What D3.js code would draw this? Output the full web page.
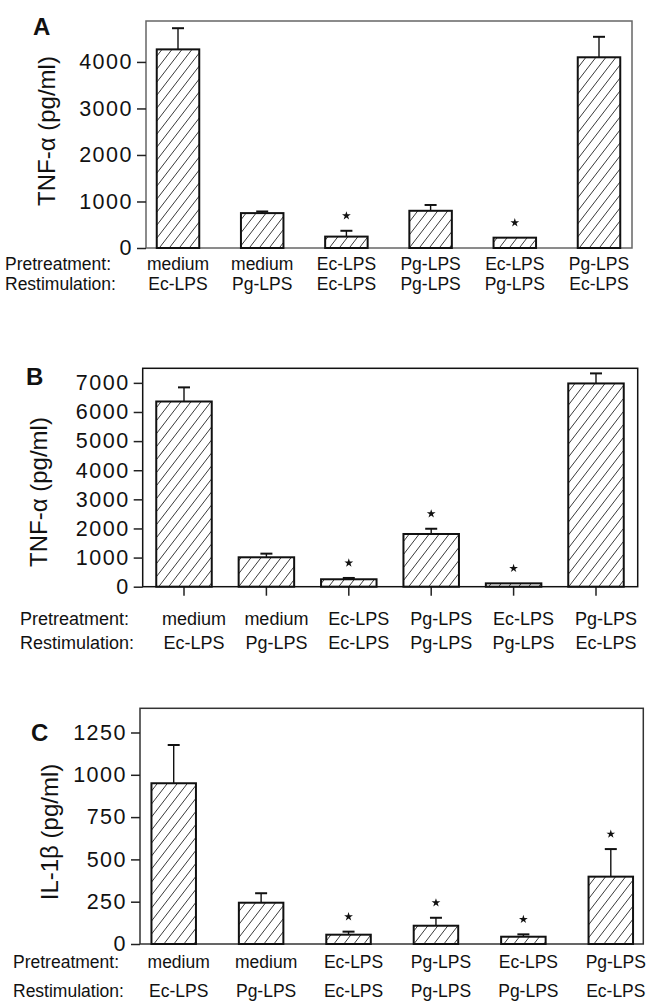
<!DOCTYPE html>
<html>
<head>
<meta charset="utf-8">
<script src="https://cdn.jsdelivr.net/npm/d3@7"></script>
<style>
  body { margin: 0; background: #fff; }
  svg { display: block; }
  text { font-family: "Liberation Sans", Arial, Helvetica, sans-serif; fill: #111; }
</style>
</head>
<body>
<svg id="fig" width="647" height="1006"></svg>
<script>
// categories (same for all three panels)
var pretreatment = ["medium", "medium", "Ec-LPS", "Pg-LPS", "Ec-LPS", "Pg-LPS"]
var restimulation = ["Ec-LPS", "Pg-LPS", "Ec-LPS", "Pg-LPS", "Pg-LPS", "Ec-LPS"]

// panel A: TNF-a
var tnfA = [4270, 750, 245, 800, 222, 4100]
var tnfAErr = [455, 35, 125, 125, 0, 440]
var starsA = [0, 0, 1, 0, 1, 0]
var ticksA = [0, 1000, 2000, 3000, 4000]

// panel B: TNF-a
var tnfB = [6360, 1010, 255, 1810, 115, 6980]
var tnfBErr = [485, 125, 45, 180, 0, 345]
var starsB = [0, 0, 1, 1, 1, 0]
var ticksB = [0, 1000, 2000, 3000, 4000, 5000, 6000, 7000]

// panel C: IL-1b
var il1bC = [950, 244, 55, 108, 43, 398]
var il1bCErr = [226, 56, 18, 47, 14, 163]
var starsC = [0, 0, 1, 1, 1, 1]
var ticksC = [0, 250, 500, 750, 1000, 1250]

var svg = d3.select("#fig")

// diagonal hatch
var defs = svg.append("defs")
defs.append("pattern")
  .attr("id", "hatch")
  .attr("patternUnits", "userSpaceOnUse")
  .attr("width", 10).attr("height", 13)
  .append("path")
  .attr("d", "M-1,14.3 L11,-1.3 M-1,1.3 L1,-1.3 M9,14.3 L11,11.7")
  .attr("stroke", "#222")
  .attr("stroke-width", 0.9)
  .attr("fill", "none")

var panels = [
  { letter: "A", values: tnfA, errs: tnfAErr, stars: starsA, ticks: ticksA, ymax: 4880,
    title: "TNF-\u03b1 (pg/ml)", box: [146, 21, 632, 248], first: 178, last: 599, barW: 42.5,
    letterPos: [33, 35], titlePos: [55, 131], rowX: 5, rows: [270, 290], dx: 0, font: 17.5,
    frame: "#666", xTicks: false },
  { letter: "B", values: tnfB, errs: tnfBErr, stars: starsB, ticks: ticksB, ymax: 7500,
    title: "TNF-\u03b1 (pg/ml)", box: [142.7, 368.3, 637.7, 586.7], first: 184, last: 596, barW: 55.5,
    letterPos: [26, 385], titlePos: [47, 492], rowX: 20, rows: [625, 649], dx: 10, font: 18,
    frame: "#111", xTicks: true },
  { letter: "C", values: il1bC, errs: il1bCErr, stars: starsC, ticks: ticksC, ymax: 1393,
    title: "IL-1\u03b2 (pg/ml)", box: [140, 708.3, 643.3, 944], first: 173.7, last: 610.8, barW: 44.5,
    letterPos: [31, 741], titlePos: [58, 832], rowX: 13, rows: [968, 997], dx: 5, font: 17.5,
    frame: "#333", xTicks: false }
]

panels.forEach(function(p) {
  var idx = d3.range(p.values.length)
  var step = (p.last - p.first) / (idx.length - 1)
  var pad = 1 - p.barW / step

  var x = d3.scaleBand()
    .domain(idx)
    .range([p.first - step / 2, p.last + step / 2])
    .paddingInner(pad)
    .paddingOuter(pad / 2)

  var y = d3.scaleLinear()
    .domain([0, p.ymax])
    .range([p.box[3], p.box[1]])

  var g = svg.append("g")

  // frame
  g.append("rect")
    .attr("x", p.box[0]).attr("y", p.box[1])
    .attr("width", p.box[2] - p.box[0])
    .attr("height", p.box[3] - p.box[1])
    .attr("fill", "none")
    .attr("stroke", p.frame)
    .attr("stroke-width", 1.5)

  // y axis
  var yAxis = g.append("g")
    .attr("transform", "translate(" + p.box[0] + ",0)")
    .call(d3.axisLeft(y).tickValues(p.ticks).tickSize(9).tickPadding(4).tickFormat(d3.format("d")))
  yAxis.select(".domain").remove()
  yAxis.selectAll("line").attr("stroke", "#222").attr("stroke-width", 1.5)
  yAxis.selectAll("text")
    .style("font-family", "'Liberation Sans', Arial, sans-serif")
    .style("font-size", "21.5px")
    .attr("letter-spacing", "1.5px")
    .attr("fill", "#111")

  if (p.xTicks) {
    var xAxis = g.append("g")
      .attr("transform", "translate(0," + p.box[3] + ")")
      .call(d3.axisBottom(x).tickSize(9).tickFormat(""))
    xAxis.select(".domain").remove()
    xAxis.selectAll("line").attr("stroke", "#222").attr("stroke-width", 1.5)
  }

  // error bars (upper only)
  idx.forEach(function(i) {
    if (!p.errs[i]) return
    var cx = x(i) + x.bandwidth() / 2
    g.append("line")
      .attr("x1", cx).attr("x2", cx)
      .attr("y1", y(p.values[i])).attr("y2", y(p.values[i] + p.errs[i]))
      .attr("stroke", "#111").attr("stroke-width", 1.4)
    g.append("line")
      .attr("x1", cx - 6).attr("x2", cx + 6)
      .attr("y1", y(p.values[i] + p.errs[i])).attr("y2", y(p.values[i] + p.errs[i]))
      .attr("stroke", "#111").attr("stroke-width", 2)
  })

  // bars
  g.selectAll("rect.bar")
    .data(idx)
    .enter()
    .append("rect")
    .attr("class", "bar")
    .attr("x", function(i) { return x(i) })
    .attr("y", function(i) { return y(p.values[i]) })
    .attr("width", x.bandwidth())
    .attr("height", function(i) { return y(0) - y(p.values[i]) })
    .attr("fill", "url(#hatch)")
    .attr("stroke", "#111")
    .attr("stroke-width", 2)

  // significance stars
  g.selectAll("path.star")
    .data(idx.filter(function(i) { return p.stars[i] }))
    .enter()
    .append("path")
    .attr("class", "star")
    .attr("d", d3.symbol(d3.symbolStar).size(24))
    .attr("transform", function(i) {
      return "translate(" + (x(i) + x.bandwidth() / 2) + "," + (y(p.values[i] + p.errs[i]) - 15) + ")"
    })
    .attr("fill", "#111")

  // panel letter
  g.append("text")
    .attr("x", p.letterPos[0]).attr("y", p.letterPos[1])
    .style("font-size", "24px").style("font-weight", "bold")
    .text(p.letter)

  // y title
  g.append("text")
    .attr("transform", "translate(" + p.titlePos[0] + "," + p.titlePos[1] + ") rotate(-90)")
    .attr("text-anchor", "middle")
    .style("font-size", "24px")
    .text(p.title)

  // category rows
  var rowNames = ["Pretreatment:", "Restimulation:"]
  var rowData = [pretreatment, restimulation]
  rowData.forEach(function(labels, r) {
    g.append("text")
      .attr("x", p.rowX).attr("y", p.rows[r])
      .style("font-size", p.font + "px")
      .text(rowNames[r])
    g.selectAll("text.cat" + r)
      .data(idx)
      .enter()
      .append("text")
      .attr("class", "cat" + r)
      .attr("x", function(i) { return x(i) + x.bandwidth() / 2 + p.dx })
      .attr("y", p.rows[r])
      .attr("text-anchor", "middle")
      .style("font-size", p.font + "px")
      .text(function(i) { return labels[i] })
  })
})
</script>
</body>
</html>
